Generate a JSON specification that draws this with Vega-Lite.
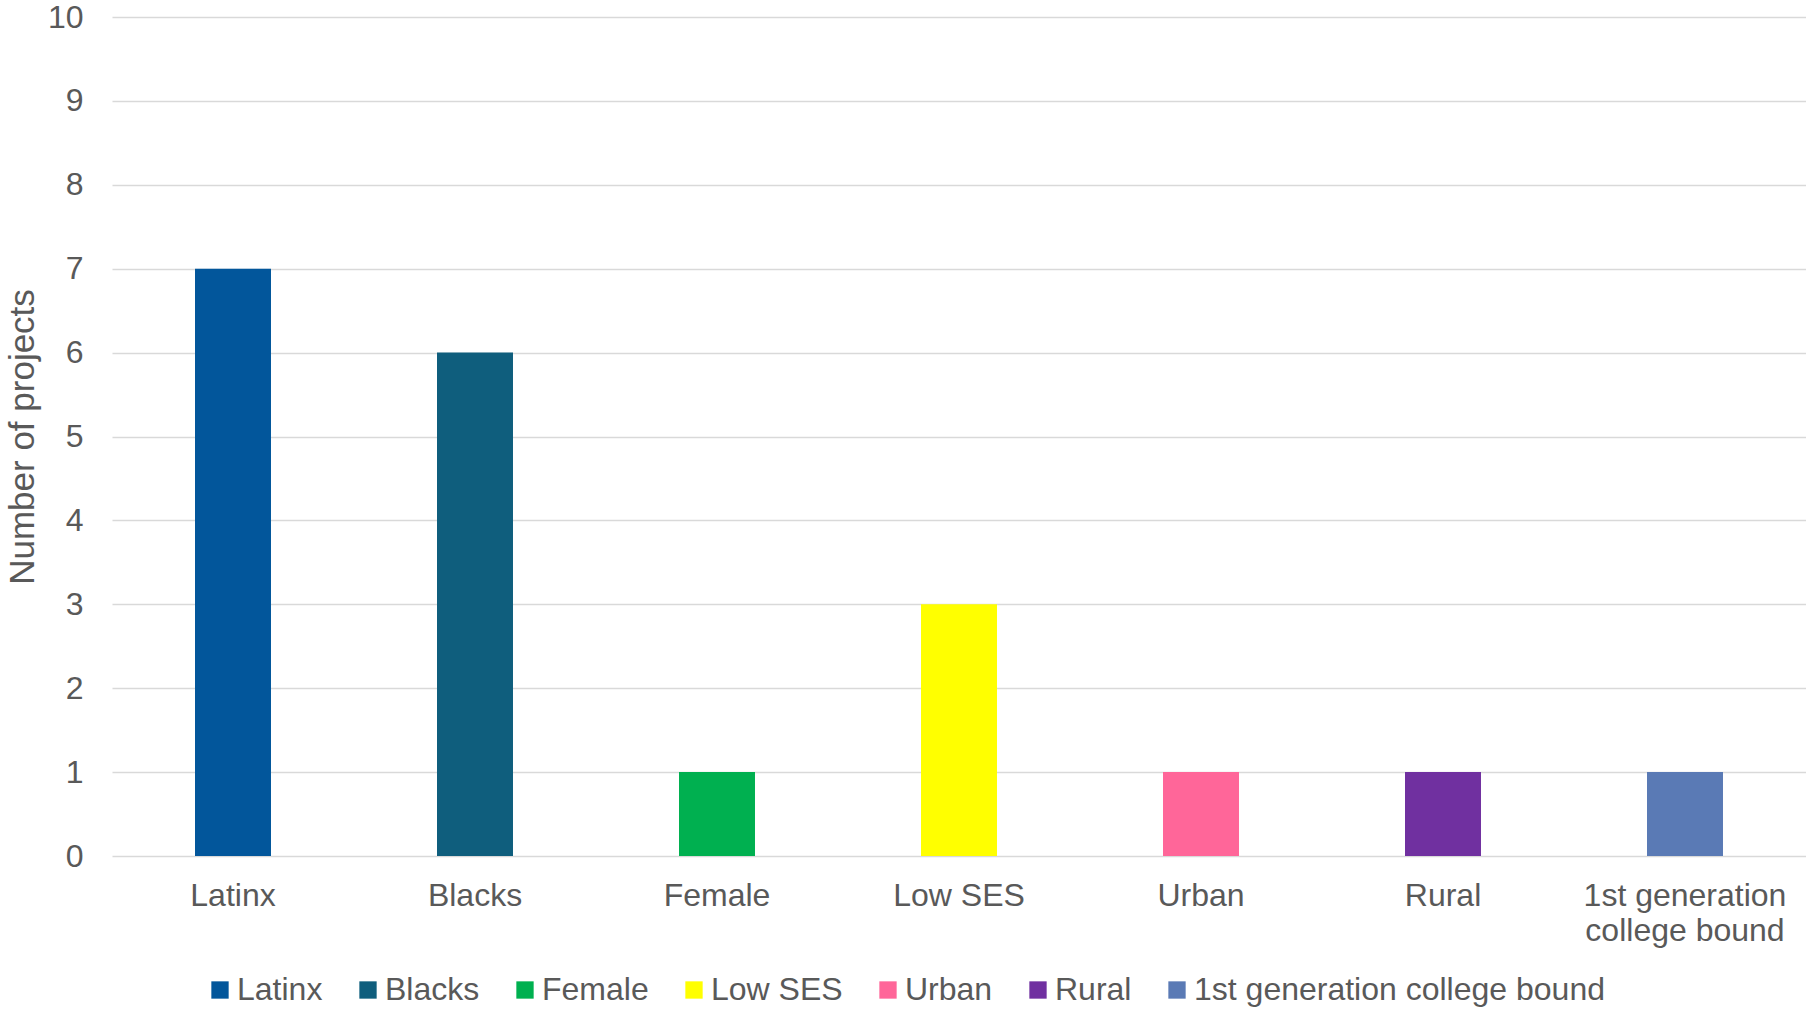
{
  "$schema": "https://vega.github.io/schema/vega-lite/v6.json",
  "width": 1694,
  "height": 839,
  "autosize": {"type": "none"},
  "padding": {"left": 112, "top": 17, "right": 0, "bottom": 153},
  "background": "white",
  "data": {
    "values": [
      {"group": "Latinx", "projects": 7},
      {"group": "Blacks", "projects": 6},
      {"group": "Female", "projects": 1},
      {"group": "Low SES", "projects": 3},
      {"group": "Urban", "projects": 1},
      {"group": "Rural", "projects": 1},
      {"group": "1st generation college bound", "projects": 1}
    ]
  },
  "mark": {"type": "bar"},
  "encoding": {
    "x": {
      "field": "group",
      "type": "nominal",
      "sort": null,
      "scale": {"paddingInner": 0.686, "paddingOuter": 0.343},
      "axis": {
        "title": null,
        "labelAngle": 0,
        "domain": false,
        "ticks": false,
        "tickSize": 0,
        "grid": false,
        "labelPadding": 24,
        "labelFontSize": 32,
        "labelColor": "#595959",
        "labelLineHeight": 35,
        "labelLimit": 400,
        "labelExpr": "datum.label == '1st generation college bound' ? ['1st generation', 'college bound'] : datum.label"
      }
    },
    "y": {
      "field": "projects",
      "type": "quantitative",
      "scale": {"domain": [0, 10], "nice": false},
      "axis": {
        "title": "Number of projects",
        "titleFontSize": 35,
        "titleFontWeight": "normal",
        "titleColor": "#595959",
        "titlePadding": 7,
        "values": [0, 1, 2, 3, 4, 5, 6, 7, 8, 9, 10],
        "domain": false,
        "ticks": false,
        "tickSize": 0,
        "labelPadding": 29,
        "labelFontSize": 32,
        "labelColor": "#595959",
        "grid": true,
        "gridColor": "#d9d9d9",
        "gridWidth": 1.5
      }
    },
    "color": {
      "field": "group",
      "type": "nominal",
      "sort": null,
      "scale": {
        "domain": ["Latinx", "Blacks", "Female", "Low SES", "Urban", "Rural", "1st generation college bound"],
        "range": ["#02569b", "#0f5e7d", "#00b050", "#ffff00", "#ff6699", "#7030a0", "#5a7ab5"]
      },
      "legend": {
        "title": null,
        "orient": "none",
        "direction": "horizontal",
        "legendX": 92,
        "legendY": 957,
        "symbolType": "square",
        "symbolSize": 300,
        "symbolStrokeWidth": 0,
        "labelFontSize": 32,
        "labelColor": "#595959",
        "labelOffset": 1,
        "labelLimit": 500,
        "columnPadding": 29
      }
    }
  },
  "config": {
    "font": "Liberation Sans",
    "view": {"stroke": null}
  }
}
